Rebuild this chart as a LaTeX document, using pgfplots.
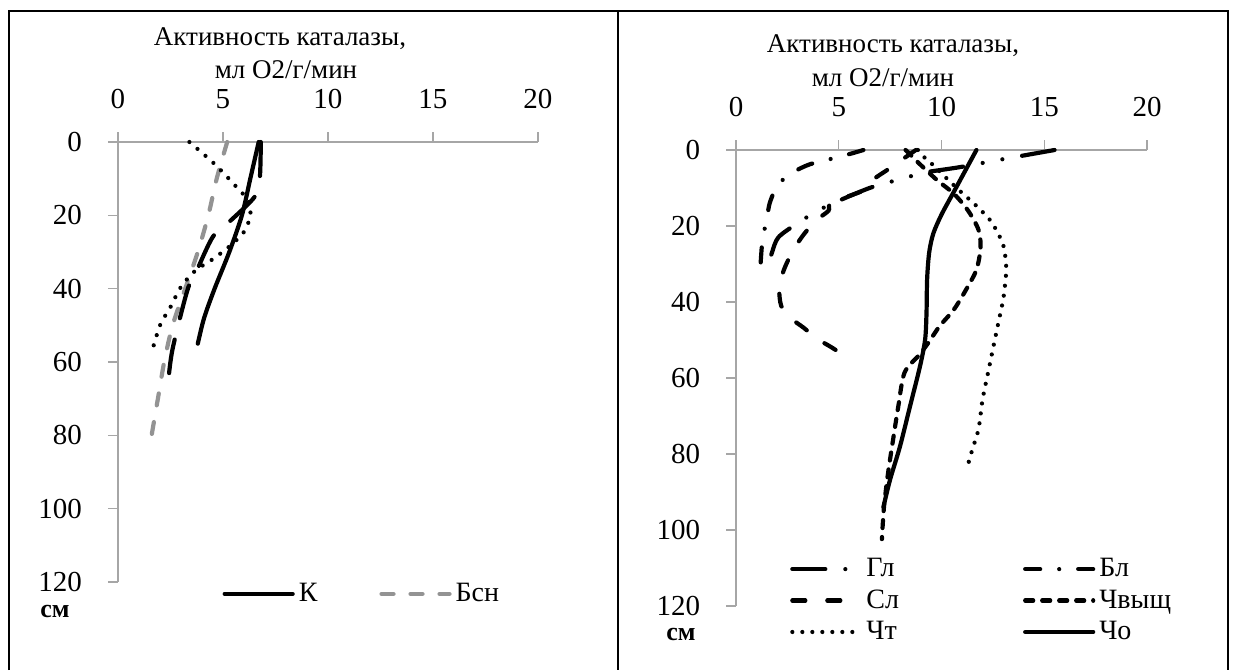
\documentclass[border=0pt]{standalone}
\usepackage{fontspec}
\setmainfont{Liberation Serif}
\usepackage{pgfplots}
\pgfplotsset{compat=1.18}
\pgfplotsset{
  panel/.style={
    scale only axis, anchor=north west,
    xmin=0, xmax=20, ymin=0, ymax=120, y dir=reverse,
    axis x line*=top, axis y line*=left,
    xtick={0,5,10,15,20}, ytick={0,20,40,60,80,100,120},
    tick align=outside, major tick length=5pt,
    axis line style={draw=gray!70, line width=0.7pt},
    every tick/.style={draw=gray!70, line width=0.7pt},
    tick label style={font=\fontsize{14.5}{14.5}\selectfont, inner sep=1pt},
    xticklabel style={yshift=10.5pt},
    yticklabel style={xshift=-11.8pt},
    /pgf/number format/assume math mode=true,
    clip=false,
    legend cell align=left,
    legend image code/.code={\draw[##1] (0pt,0pt) -- (34pt,0pt);},
    legend style={draw=none, fill=none, inner sep=0pt, font=\fontsize{14}{14}\selectfont},
  },
  ln/.style={black, line width=2.1pt, line cap=round, smooth, tension=0.5},
}
\begin{document}
\begin{tikzpicture}
\useasboundingbox (0,0) rectangle (619pt,-335pt);
\draw[line width=1pt] (4.5pt,-335pt) -- (4.5pt,-5.5pt) -- (614pt,-5.5pt) -- (614pt,-335pt);
\draw[line width=1pt] (309pt,-5.5pt) -- (309pt,-335pt);

% ---------------- left panel ----------------
\begin{axis}[panel, at={(59pt,-71pt)}, width=210pt, height=220pt,
  legend columns=2,
  legend style={at={(axis description cs:0.248,-0.027)}, anchor=west,
    /tikz/every even column/.append style={column sep=29pt}},
]
\addplot[ln] coordinates {(6.7,0) (6.3,10) (5.9,20) (5.3,30) (4.6,40) (4.1,48) (3.8,55)};
\addlegendentry{К}
\addplot[ln, color=gray!85, dash pattern=on 6pt off 8.5pt] coordinates {(5.2,0) (4.7,10) (4.3,20) (3.8,30) (3.2,40) (2.6,50) (2.2,60) (1.9,70) (1.6,80)};
\addlegendentry{Бсн}
\addplot[ln, dash pattern=on 17pt off 11pt, forget plot] coordinates {(6.8,0) (6.75,10) (6.5,15) (5.2,22.3) (4.5,26) (3.7,35.7) (3.3,40.5) (2.6,56.4) (2.4,65)};
\addplot[ln, dash pattern=on 0pt off 5.3pt, forget plot] coordinates {(3.4,0) (4.6,6) (5.6,12) (6.2,16) (6.3,20) (6.0,24.5) (5.3,28.5) (4.5,32) (3.7,35) (3.0,39.5) (2.5,45) (2.0,50) (1.6,57.5)};
\end{axis}
\node[font=\fontsize{13.5}{15}\selectfont] at (140pt,-19.5pt) {Активность каталазы,};
\node[font=\fontsize{13.5}{15}\selectfont] at (143pt,-35pt) {мл О2/г/мин};
\node[font=\bfseries\fontsize{13}{13}\selectfont, inner sep=0pt] at (27.5pt,-305.5pt) {см};

% ---------------- right panel ----------------
\begin{scope}
\clip (309pt,0pt) rectangle (614pt,-324pt);
\begin{axis}[panel, at={(368pt,-75pt)}, width=205.5pt, height=228pt,
  legend columns=2,
  legend style={at={(axis description cs:0.131,0.012)}, anchor=west, row sep=1pt,
    /tikz/every even column/.append style={column sep=60pt}},
]
\addplot[ln, dash pattern=on 16.5pt off 10pt on 0pt off 10pt on 0pt off 10pt] coordinates {(15.5,0) (12.8,2.6) (10.9,4.5) (9.1,6) (8.1,7.6) (7.2,8.8) (6.3,10.4) (4.6,14.3) (3.75,16.7) (2.9,19.6) (2.06,23) (1.75,27) (1.5,31.8)};
\addlegendentry{Гл}
\addplot[ln, dash pattern=on 7.5pt off 9.5pt on 0pt off 9.5pt] coordinates {(6.2,0) (5.5,1.1) (4.43,2.6) (3.57,3.8) (2.8,5.8) (2.06,9) (1.65,13.8) (1.5,18.2) (1.3,23.2) (1.22,28) (1.17,32.7)};
\addlegendentry{Бл}
\addplot[ln, dash pattern=on 6.5pt off 11pt] coordinates {(8.75,0) (8.46,1.1) (7.4,5.1) (6.7,7.7) (6.3,10.4) (4.65,13.9) (4.5,16) (3.9,18.5) (3.3,22.2) (2.8,26.2) (2.4,30.6) (2.15,34.5) (2.1,37) (2.2,41) (2.6,44) (3.3,46.8) (3.9,49.5) (4.7,52.1) (5.5,55)};
\addlegendentry{Сл}
\addplot[ln, dash pattern=on 4pt off 4.5pt] coordinates {(8.25,0) (8.46,1.1) (9.0,4) (9.8,8) (10.6,11.5) (11.3,16) (11.8,21) (11.9,25.7) (11.7,31.5) (11.2,36.7) (10.6,42) (9.9,46.4) (9.35,50.8) (8.9,54) (8.2,58.6) (7.9,67.4) (7.65,76) (7.4,85) (7.2,94) (7.1,102.4)};
\addlegendentry{Чвыщ}
\addplot[ln, dash pattern=on 0pt off 5pt] coordinates {(8.85,0) (9.1,1.6) (9.6,4) (10.2,7.2) (10.9,10.8) (11.7,14.7) (12.4,18.7) (12.85,23) (13.05,26) (13.15,31) (13.1,35) (13.0,39.4) (12.8,44.6) (12.5,52.4) (12.3,57.7) (12.0,65.6) (11.8,73.5) (11.5,78.8) (11.2,84.5)};
\addlegendentry{Чт}
\addplot[ln] coordinates {(11.7,0) (11.2,5) (10.6,11) (10.0,17) (9.6,22) (9.4,27) (9.3,34) (9.27,43) (9.2,50) (8.95,57) (8.47,67.4) (7.98,78) (7.5,86.7) (7.17,94)};
\addlegendentry{Чо}
\end{axis}
\end{scope}
\node[font=\fontsize{13.5}{15}\selectfont] at (446.5pt,-23pt) {Активность каталазы,};
\node[font=\fontsize{13.5}{15}\selectfont] at (441.5pt,-39pt) {мл О2/г/мин};
\node[font=\bfseries\fontsize{13}{13}\selectfont, inner sep=0pt] at (340.5pt,-317pt) {см};
\end{tikzpicture}
\end{document}
